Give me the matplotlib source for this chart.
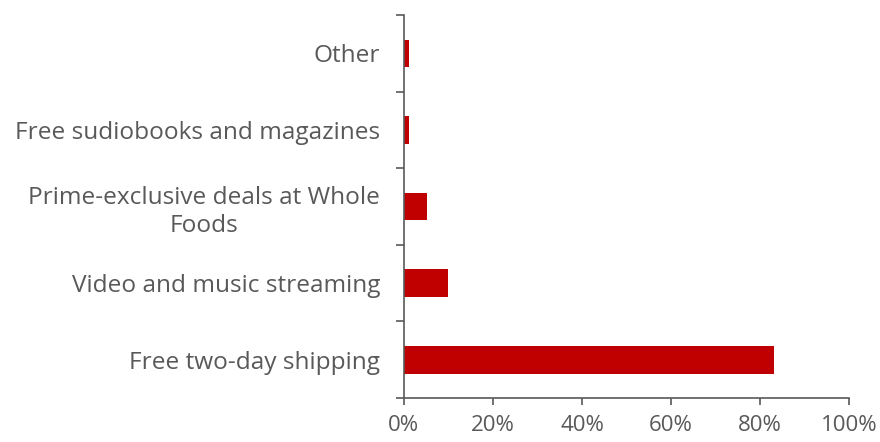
import matplotlib
matplotlib.use('Agg')
from matplotlib import pyplot as plt
from matplotlib.ticker import FixedLocator, PercentFormatter

categories = ["Free two-day shipping", "Video and music streaming",
              "Prime-exclusive deals at Whole\nFoods",
              "Free sudiobooks and magazines", "Other"]
shares = [83, 10, 5.2, 1.1, 1.1]
x_ticks = [0, 20, 40, 60, 80, 100]

plt.rcParams['font.family'] = ['Open Sans', 'DejaVu Sans']
grey = '#595959'

fig = plt.figure(figsize=(8.8, 4.42), dpi=100)
ax = fig.add_axes([0.459, 0.0995, 0.506, 0.8665])

pos = range(len(categories))
ax.barh(pos, shares, height=0.36, color='#C00000')

ax.set_xlim(0, 100)
ax.set_ylim(-0.5, len(categories) - 0.5)
ax.set_xticks(x_ticks)
ax.xaxis.set_major_formatter(PercentFormatter(decimals=0))
ax.set_yticks(list(pos))
ax.set_yticklabels(categories, multialignment='center', linespacing=1.25)
ax.yaxis.set_minor_locator(FixedLocator([i - 0.5 for i in range(len(categories) + 1)]))

ax.tick_params(axis='y', which='major', length=0, pad=17, labelsize=17.6, labelcolor=grey)
ax.tick_params(axis='y', which='minor', length=6, width=1.2, color=grey, direction='out')
ax.tick_params(axis='x', length=5, width=1.2, color=grey, pad=7, labelsize=16, labelcolor=grey)

for s in ['top', 'right']:
    ax.spines[s].set_visible(False)
for s in ['left', 'bottom']:
    ax.spines[s].set_color(grey)
    ax.spines[s].set_linewidth(1.2)

plt.savefig('out.png', dpi=100)
